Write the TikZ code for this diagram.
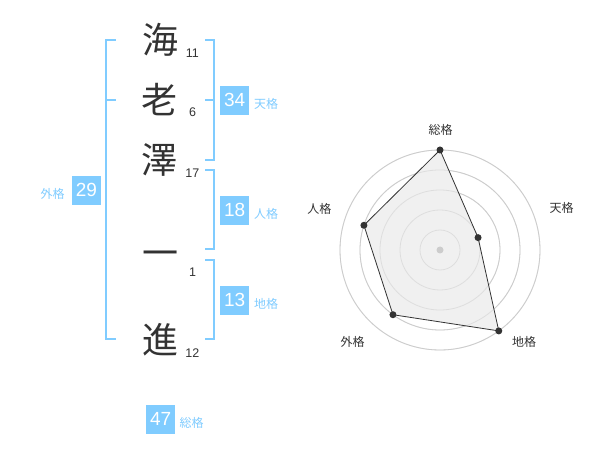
\documentclass[tikz,border=0pt]{standalone}
\usepackage{fontspec}
\setmainfont{Liberation Sans}
\newfontfamily\cjk{Noto Sans CJK JP}
\definecolor{kblue}{HTML}{80CCFF}
\definecolor{kdark}{HTML}{333333}
\definecolor{kgrid}{HTML}{CCCCCC}
\definecolor{kfill}{HTML}{F0F0F0}
\tikzset{
  kanji/.style={inner sep=0pt, anchor=center, text=kdark, font=\cjk\fontsize{36}{36}\selectfont},
  stroke/.style={inner sep=0pt, anchor=center, text=kdark, font=\fontsize{12.5}{12.5}\selectfont},
  numbox/.style={fill=kblue, text=white, minimum size=28.7pt, inner sep=0pt, font=\fontsize{19}{19}\selectfont},
  kaku/.style={inner sep=0pt, anchor=center, text=kblue, font=\cjk\fontsize{12}{12}\selectfont},
  brk/.style={draw=kblue, line width=2pt},
  rlabel/.style={inner sep=0pt, anchor=center, text=kdark, font=\cjk\fontsize{12}{12}\selectfont},
  grid/.style={draw=kgrid, line width=0.8pt},
  pt/.style={circle, fill=kdark, inner sep=0pt, minimum size=7pt},
}
\begin{document}
\begin{tikzpicture}[x=1pt,y=-1pt]
\useasboundingbox[fill=white] (0,0) rectangle (600,470);
% characters
\node[kanji] (c1) at (160,40) {海};
\node[kanji] (c2) at (159.5,100) {老};
\node[kanji] (c3) at (159.5,160) {澤};
\node[kanji] (c4) at (160,259) {一};
\node[kanji] (c5) at (160,340) {進};
\node[stroke] (s1) at (192.3,53.3) {11};
\node[stroke] (s2) at (192.7,112.7) {6};
\node[stroke] (s3) at (192.3,173.3) {17};
\node[stroke] (s4) at (192.7,272.7) {1};
\node[stroke] (s5) at (192.3,353.3) {12};
% brackets
\draw[brk] (115.7,40) -- (105.7,40) -- (105.7,339.3) -- (115.7,339.3);
\draw[brk] (105.7,100) -- (115.7,100);
\draw[brk] (205,40) -- (214.3,40) -- (214.3,160) -- (205,160);
\draw[brk] (205,100) -- (214.3,100);
\draw[brk] (205,170) -- (214.3,170) -- (214.3,249.3) -- (205,249.3);
\draw[brk] (205,260) -- (214.3,260) -- (214.3,339.3) -- (205,339.3);
% boxes
\node[numbox] (ten) at (234.7,100.3) {34};
\node[kaku] (tenl) at (266,104.3) {天格};
\node[numbox] (jin) at (234.7,210.3) {18};
\node[kaku] (jinl) at (266,214) {人格};
\node[numbox] (chi) at (234.7,300.3) {13};
\node[kaku] (chil) at (266,304) {地格};
\node[numbox] (gai) at (86.5,190.3) {29};
\node[kaku] (gail) at (52.7,194.3) {外格};
\node[numbox] (sou) at (160.7,419.3) {47};
\node[kaku] (soul) at (191.7,422.7) {総格};
% radar
\begin{scope}[shift={(440,250)}, yscale=-1]
  \foreach \r in {20,40,60,80,100} \draw[grid] (0,0) circle[radius=\r pt];
  \coordinate (pS) at (90:100);
  \coordinate (pT) at (18:40);
  \coordinate (pC) at (-54:100);
  \coordinate (pG) at (-126:80);
  \coordinate (pJ) at (162:80);
  \fill[kfill] (pS) -- (pT) -- (pC) -- (pG) -- (pJ) -- cycle;
  \foreach \r in {20,40,60,80,100} \draw[grid, opacity=0.5] (0,0) circle[radius=\r pt];
  \draw[kdark, line width=0.8pt] (pS) -- (pT) -- (pC) -- (pG) -- (pJ) -- cycle;
  \node[circle, fill=kgrid, inner sep=0pt, minimum size=7pt] (ctr) at (0,0) {};
  \foreach \p in {pS,pT,pC,pG,pJ} \node[pt] at (\p) {};
\end{scope}
\node[rlabel] (lS) at (440.7,130) {総格};
\node[rlabel] (lT) at (561.7,208.3) {天格};
\node[rlabel] (lC) at (524,341.7) {地格};
\node[rlabel] (lG) at (352.7,342.3) {外格};
\node[rlabel] (lJ) at (319.3,209) {人格};
\end{tikzpicture}
\end{document}
